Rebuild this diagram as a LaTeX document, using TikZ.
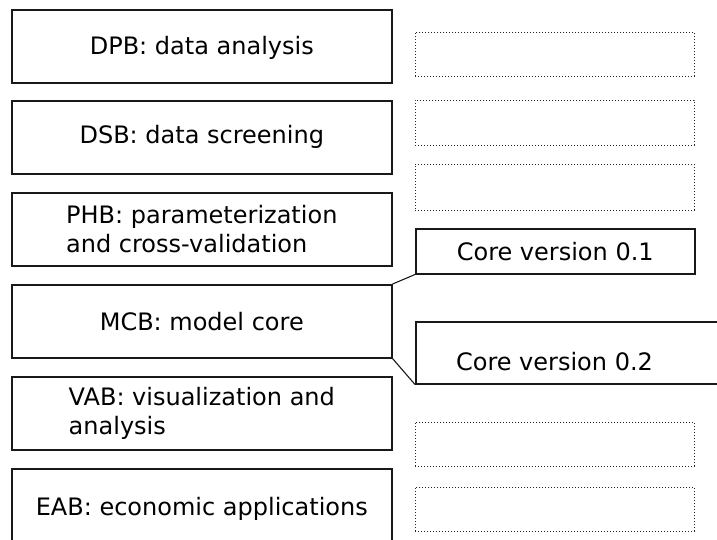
\documentclass[tikz,border=0pt]{standalone}
\usepackage{fontspec}
\setmainfont{DejaVu Sans}
\begin{document}
\begin{tikzpicture}[x=1pt,y=-1pt,
  blk/.style={draw=black!90, line width=1.6pt, rectangle, inner sep=0pt, anchor=north west,
    minimum width=380pt, minimum height=73pt, font=\fontsize{24}{29}\selectfont},
  ghost/.style={draw=black!85, line width=0.9pt, dash pattern=on 1pt off 2pt, rectangle,
    anchor=north west, inner sep=0pt, minimum width=279pt},
  corebox/.style={draw=black!90, line width=1.5pt, rectangle, inner sep=0pt, anchor=north west,
    font=\fontsize{24}{29}\selectfont},
  lab/.style={font=\fontsize{24}{29}\selectfont, inner sep=0pt},
  link/.style={draw=black!90, line width=1.1pt}]
\useasboundingbox (0,0) rectangle (717,539);
\clip (0,0) rectangle (717,539);
% left column
\node[blk, text depth=2pt] (dpb) at (11,9) {DPB: data analysis};
\node[blk] (dsb) at (11,100) {DSB: data screening};
\node[blk, align=left] (phb) at (11,192) {PHB: parameterization\\and cross-validation};
\node[blk] (mcb) at (11,284) {MCB: model core};
\node[blk, align=left] (vab) at (11,376) {VAB: visualization and\\analysis};
\node[blk, minimum height=80pt] (eab) at (11,468) {EAB: economic applications};
% right column
\node[ghost, minimum height=44pt] (g1) at (415,32) {};
\node[ghost, minimum height=45pt] (g2) at (415,100) {};
\node[ghost, minimum height=46pt] (g3) at (415,164) {};
\node[corebox, minimum width=279pt, minimum height=45pt] (c1) at (415,228) {Core version 0.1};
\node[corebox, minimum width=320pt, minimum height=62pt] (c2) at (415,321) {};
\node[lab] (c2t) at (554.5,362) {Core version 0.2};
\node[ghost, minimum height=44pt] (g4) at (415,422) {};
\node[ghost, minimum height=44pt] (g5) at (415,487) {};
% connectors
\draw[link] (mcb.north east) -- (c1.south west);
\draw[link] (mcb.south east) -- (c2.south west);
\end{tikzpicture}
\end{document}
